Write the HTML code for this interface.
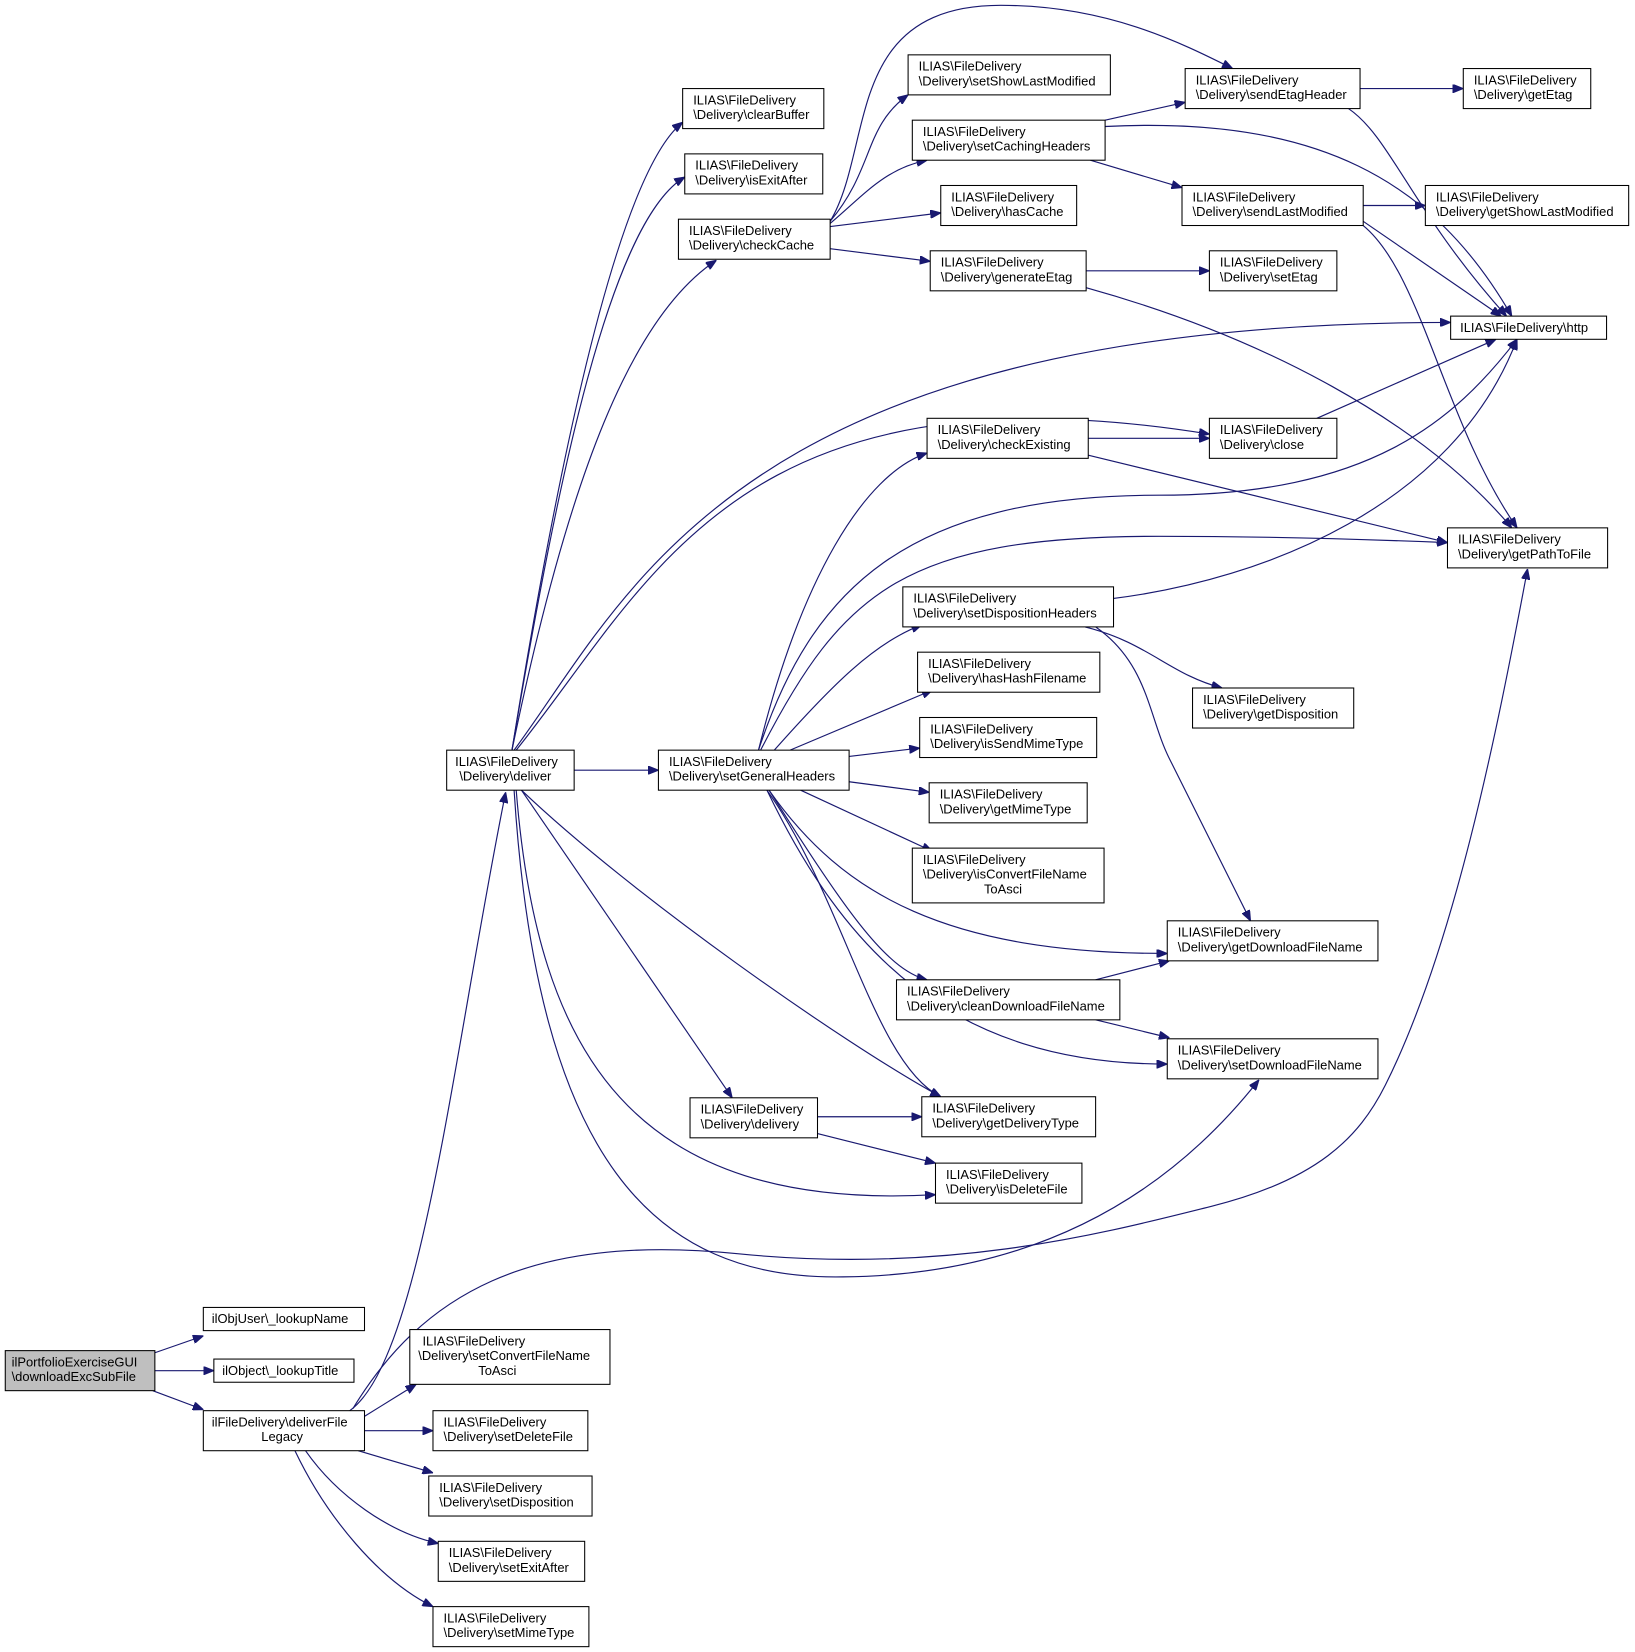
<!DOCTYPE html>
<html><head><meta charset="utf-8"><style>
html,body{margin:0;padding:0;background:#fff}
svg{display:block}
text{font-family:"Liberation Sans",Arial,sans-serif;font-size:12.3px;fill:#000}
.n{fill:#fff;stroke:#000;stroke-width:1}
.e{fill:none;stroke:#191970;stroke-width:1.1;marker-end:url(#a)}
</style></head><body>
<svg width="1635" height="1652" viewBox="0 0 1552 1568" xmlns="http://www.w3.org/2000/svg">
<defs><marker id="a" viewBox="0 0 10 8" refX="10" refY="4" markerWidth="10" markerHeight="8" markerUnits="userSpaceOnUse" orient="auto"><path d="M0,0 L10,4 L0,8 z" fill="#191970" stroke="#191970"/></marker></defs>
<g>
<path class="e" d="M147,1284 L193,1268"/>
<path class="e" d="M147,1301 L203,1301"/>
<path class="e" d="M145,1320 L193,1338"/>
<path class="e" d="M332,1339 C400,1290 430,1000 480,752"/>
<path class="e" d="M345,1345 L395,1314"/>
<path class="e" d="M346,1358 L411,1358"/>
<path class="e" d="M340,1377 L411,1398"/>
<path class="e" d="M290,1377 C320,1420 370,1455 416,1465"/>
<path class="e" d="M280,1377 C310,1440 360,1500 411,1525"/>
<path class="e" d="M335,1337 C400,1230 500,1170 700,1190 C900,1210 1050,1170 1150,1145 C1250,1120 1290,1080 1315,1030 C1380,900 1420,700 1450,540"/>
<path class="e" d="M486,712 C520,500 580,170 648,116"/>
<path class="e" d="M486,712 C530,450 580,210 650,168"/>
<path class="e" d="M486,712 C540,450 600,300 680,247"/>
<path class="e" d="M545,731 L625,731"/>
<path class="e" d="M488,712 C600,560 700,306 1377,306"/>
<path class="e" d="M490,712 C620,550 700,340 1148,412"/>
<path class="e" d="M495,750 L695,1042"/>
<path class="e" d="M495,750 C600,850 800,990 893,1041"/>
<path class="e" d="M490,750 C510,1000 600,1150 888,1134"/>
<path class="e" d="M488,750 C510,1100 620,1215 800,1212 C1000,1210 1120,1120 1195,1025"/>
<path class="e" d="M788,210 C830,140 800,5 950,5 C1050,5 1120,40 1170,65"/>
<path class="e" d="M788,210 C830,160 820,120 862,90"/>
<path class="e" d="M788,212 C820,185 840,160 880,152"/>
<path class="e" d="M788,215 L893,202"/>
<path class="e" d="M788,236 L883,248"/>
<path class="e" d="M1049,114 L1125,97"/>
<path class="e" d="M1049,120 C1250,110 1360,170 1435,300"/>
<path class="e" d="M1035,152 L1122,178"/>
<path class="e" d="M1291,84 L1389,84"/>
<path class="e" d="M1280,103 C1320,130 1340,200 1430,300"/>
<path class="e" d="M1294,195 L1353,195"/>
<path class="e" d="M1294,210 L1425,300"/>
<path class="e" d="M1294,214 C1350,260 1370,400 1440,501"/>
<path class="e" d="M1031,257 L1148,257"/>
<path class="e" d="M1031,273 C1200,320 1350,400 1435,501"/>
<path class="e" d="M1250,397 L1420,322"/>
<path class="e" d="M1033,416 L1148,416"/>
<path class="e" d="M1033,432 L1374,515"/>
<path class="e" d="M720,712 C760,550 820,450 880,430"/>
<path class="e" d="M720,712 C770,560 860,470 1100,470 C1300,470 1380,400 1440,322"/>
<path class="e" d="M722,712 C800,560 860,509 1100,509 C1200,509 1300,512 1374,515"/>
<path class="e" d="M735,712 C790,650 830,610 875,593"/>
<path class="e" d="M750,712 L885,655"/>
<path class="e" d="M806,718 L873,710"/>
<path class="e" d="M806,742 L882,752"/>
<path class="e" d="M760,750 L885,808"/>
<path class="e" d="M730,750 C800,850 900,905 1108,905"/>
<path class="e" d="M730,750 C800,860 840,920 880,930"/>
<path class="e" d="M728,750 C800,900 900,1010 1108,1010"/>
<path class="e" d="M728,750 C800,850 830,1010 893,1041"/>
<path class="e" d="M1057,568 C1200,550 1380,480 1440,322"/>
<path class="e" d="M1030,595 C1090,610 1110,640 1160,653"/>
<path class="e" d="M1040,595 C1090,630 1090,680 1110,720 L1187,874"/>
<path class="e" d="M1040,930 L1110,912"/>
<path class="e" d="M1040,968 L1110,985"/>
<path class="e" d="M776,1060 L875,1060"/>
<path class="e" d="M776,1076 L888,1104"/>
</g>
<g>
<rect x="5" y="1282" width="142" height="38" fill="#bfbfbf" stroke="#000"/><text x="11" y="1297">ilPortfolioExerciseGUI</text><text x="11" y="1311">\downloadExcSubFile</text>
<rect class="n" x="193" y="1241" width="153" height="22"/><text x="201" y="1256">ilObjUser\_lookupName</text>
<rect class="n" x="203" y="1290" width="133" height="22"/><text x="211" y="1305">ilObject\_lookupTitle</text>
<rect class="n" x="193" y="1339" width="153" height="38"/><text x="201" y="1354">ilFileDelivery\deliverFile</text><text x="248" y="1368">Legacy</text>
<rect class="n" x="389" y="1262" width="190" height="52"/><text x="401" y="1277">ILIAS\FileDelivery</text><text x="397" y="1291">\Delivery\setConvertFileName</text><text x="454" y="1305">ToAsci</text>
</g>
<g id="nodes"></g>
<g>
<!-- two-line nodes -->
<rect class="n" x="411" y="1339" width="147" height="38"/><text x="421" y="1354">ILIAS\FileDelivery</text><text x="421" y="1368">\Delivery\setDeleteFile</text>
<rect class="n" x="407" y="1401" width="155" height="38"/><text x="417" y="1416">ILIAS\FileDelivery</text><text x="417" y="1430">\Delivery\setDisposition</text>
<rect class="n" x="416" y="1463" width="139" height="38"/><text x="426" y="1478">ILIAS\FileDelivery</text><text x="426" y="1492">\Delivery\setExitAfter</text>
<rect class="n" x="411" y="1525" width="148" height="38"/><text x="421" y="1540">ILIAS\FileDelivery</text><text x="421" y="1554">\Delivery\setMimeType</text>
<rect class="n" x="424" y="712" width="121" height="38"/><text x="432" y="727">ILIAS\FileDelivery</text><text x="436" y="741">\Delivery\deliver</text>
<rect class="n" x="648" y="84" width="134" height="38"/><text x="658" y="99">ILIAS\FileDelivery</text><text x="658" y="113">\Delivery\clearBuffer</text>
<rect class="n" x="650" y="146" width="131" height="38"/><text x="660" y="161">ILIAS\FileDelivery</text><text x="660" y="175">\Delivery\isExitAfter</text>
<rect class="n" x="644" y="208" width="144" height="38"/><text x="654" y="223">ILIAS\FileDelivery</text><text x="654" y="237">\Delivery\checkCache</text>
<rect class="n" x="625" y="712" width="181" height="38"/><text x="635" y="727">ILIAS\FileDelivery</text><text x="635" y="741">\Delivery\setGeneralHeaders</text>
<rect class="n" x="655" y="1042" width="121" height="38"/><text x="665" y="1057">ILIAS\FileDelivery</text><text x="665" y="1071">\Delivery\delivery</text>
<rect class="n" x="862" y="52" width="192" height="38"/><text x="872" y="67">ILIAS\FileDelivery</text><text x="872" y="81">\Delivery\setShowLastModified</text>
<rect class="n" x="866" y="114" width="183" height="38"/><text x="876" y="129">ILIAS\FileDelivery</text><text x="876" y="143">\Delivery\setCachingHeaders</text>
<rect class="n" x="893" y="176" width="129" height="38"/><text x="903" y="191">ILIAS\FileDelivery</text><text x="903" y="205">\Delivery\hasCache</text>
<rect class="n" x="883" y="238" width="148" height="38"/><text x="893" y="253">ILIAS\FileDelivery</text><text x="893" y="267">\Delivery\generateEtag</text>
<rect class="n" x="880" y="397" width="153" height="38"/><text x="890" y="412">ILIAS\FileDelivery</text><text x="890" y="426">\Delivery\checkExisting</text>
<rect class="n" x="857" y="557" width="200" height="38"/><text x="867" y="572">ILIAS\FileDelivery</text><text x="867" y="586">\Delivery\setDispositionHeaders</text>
<rect class="n" x="871" y="619" width="173" height="38"/><text x="881" y="634">ILIAS\FileDelivery</text><text x="881" y="648">\Delivery\hasHashFilename</text>
<rect class="n" x="873" y="681" width="168" height="38"/><text x="883" y="696">ILIAS\FileDelivery</text><text x="883" y="710">\Delivery\isSendMimeType</text>
<rect class="n" x="882" y="743" width="150" height="38"/><text x="892" y="758">ILIAS\FileDelivery</text><text x="892" y="772">\Delivery\getMimeType</text>
<rect class="n" x="866" y="805" width="182" height="52"/><text x="876" y="820">ILIAS\FileDelivery</text><text x="876" y="834">\Delivery\isConvertFileName</text><text x="934" y="848">ToAsci</text>
<rect class="n" x="851" y="930" width="212" height="38"/><text x="861" y="945">ILIAS\FileDelivery</text><text x="861" y="959">\Delivery\cleanDownloadFileName</text>
<rect class="n" x="875" y="1041" width="165" height="38"/><text x="885" y="1056">ILIAS\FileDelivery</text><text x="885" y="1070">\Delivery\getDeliveryType</text>
<rect class="n" x="888" y="1104" width="139" height="38"/><text x="898" y="1119">ILIAS\FileDelivery</text><text x="898" y="1133">\Delivery\isDeleteFile</text>
<rect class="n" x="1125" y="65" width="166" height="38"/><text x="1135" y="80">ILIAS\FileDelivery</text><text x="1135" y="94">\Delivery\sendEtagHeader</text>
<rect class="n" x="1122" y="176" width="172" height="38"/><text x="1132" y="191">ILIAS\FileDelivery</text><text x="1132" y="205">\Delivery\sendLastModified</text>
<rect class="n" x="1148" y="238" width="121" height="38"/><text x="1158" y="253">ILIAS\FileDelivery</text><text x="1158" y="267">\Delivery\setEtag</text>
<rect class="n" x="1148" y="397" width="121" height="38"/><text x="1158" y="412">ILIAS\FileDelivery</text><text x="1158" y="426">\Delivery\close</text>
<rect class="n" x="1132" y="653" width="153" height="38"/><text x="1142" y="668">ILIAS\FileDelivery</text><text x="1142" y="682">\Delivery\getDisposition</text>
<rect class="n" x="1108" y="874" width="200" height="38"/><text x="1118" y="889">ILIAS\FileDelivery</text><text x="1118" y="903">\Delivery\getDownloadFileName</text>
<rect class="n" x="1108" y="986" width="200" height="38"/><text x="1118" y="1001">ILIAS\FileDelivery</text><text x="1118" y="1015">\Delivery\setDownloadFileName</text>
<rect class="n" x="1389" y="65" width="121" height="38"/><text x="1399" y="80">ILIAS\FileDelivery</text><text x="1399" y="94">\Delivery\getEtag</text>
<rect class="n" x="1353" y="176" width="193" height="38"/><text x="1363" y="191">ILIAS\FileDelivery</text><text x="1363" y="205">\Delivery\getShowLastModified</text>
<rect class="n" x="1377" y="300" width="148" height="22"/><text x="1386" y="315">ILIAS\FileDelivery\http</text>
<rect class="n" x="1374" y="501" width="152" height="38"/><text x="1384" y="516">ILIAS\FileDelivery</text><text x="1384" y="530">\Delivery\getPathToFile</text>
</g>
</svg>
</body></html>
